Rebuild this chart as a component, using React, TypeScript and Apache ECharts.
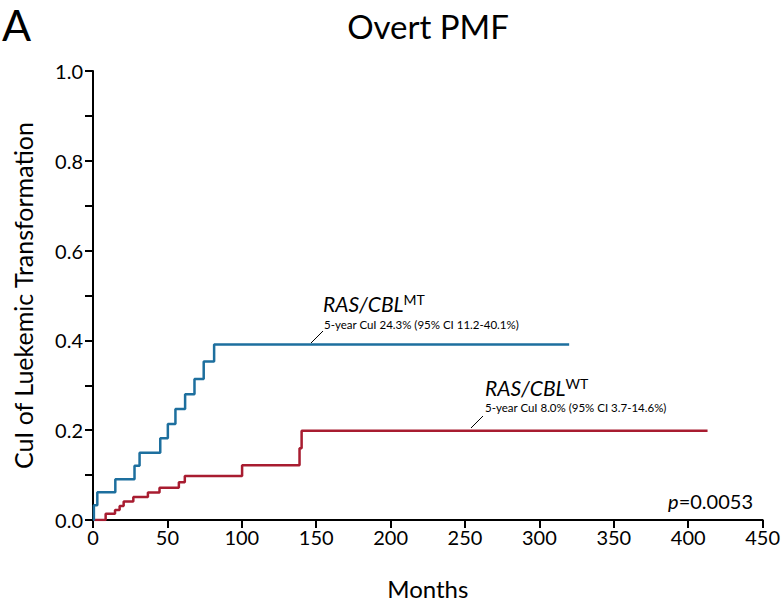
import React, { useEffect, useRef } from "react";
import * as echarts from "echarts";

const xTicks = [0, 50, 100, 150, 200, 250, 300, 350, 400, 450];
const yTicks = [0, 0.2, 0.4, 0.6, 0.8, 1.0];

const mtMonths = [0, 0.6, 2.9, 15, 27.9, 31.3, 45.2, 50.3, 55.4, 61.9, 68.2, 74.4, 81.4, 320];
const mtCui = [0, 0.033, 0.062, 0.091, 0.121, 0.15, 0.182, 0.214, 0.247, 0.28, 0.314, 0.353, 0.391, 0.391];

const wtMonths = [0, 8.5, 14.8, 17.9, 20.6, 27.1, 36.9, 44.7, 57.7, 61.7, 100.2, 138.8, 140.2, 413];
const wtCui = [0, 0.014, 0.022, 0.031, 0.041, 0.051, 0.061, 0.072, 0.084, 0.098, 0.122, 0.16, 0.199, 0.199];

const BLUE = "#1d6f9e";
const RED = "#a81c30";
const FONT = "Lato";

export default function App() {
  const ref = useRef<HTMLDivElement>(null);
  useEffect(() => {
    if (!ref.current) return;
    const chart = echarts.init(ref.current, null, { renderer: "svg" });
    const axisCommon = {
      axisLine: { show: true, lineStyle: { color: "#000", width: 2 } },
      axisTick: { show: true, length: 8, lineStyle: { color: "#000", width: 2 } },
      splitLine: { show: false },
    };
    chart.setOption({
      animation: false,
      textStyle: { fontFamily: FONT },
      grid: { left: 93, right: 19, top: 71, bottom: 80 },
      xAxis: {
        type: "value",
        min: 0,
        max: 450,
        interval: 50,
        ...axisCommon,
        axisLabel: { color: "#000", fontSize: 20, fontFamily: FONT, margin: 7, formatter: (v: number) => (xTicks.includes(v) ? String(v) : "") },
        name: "Months",
        nameLocation: "middle",
        nameGap: 56,
        nameTextStyle: { color: "#000", fontSize: 24, fontFamily: FONT },
      },
      yAxis: {
        type: "value",
        min: 0,
        max: 1,
        interval: 0.2,
        ...axisCommon,
        minorTick: { show: true, splitNumber: 2, length: 8, lineStyle: { color: "#000", width: 2 } },
        axisLabel: { color: "#000", fontSize: 20, fontFamily: FONT, margin: 10, formatter: (v: number) => (yTicks.some((t) => Math.abs(t - v) < 1e-9) ? v.toFixed(1) : "") },
        name: "CuI of Luekemic Transformation",
        nameLocation: "middle",
        nameGap: 58,
        nameTextStyle: { color: "#000", fontSize: 25, fontFamily: FONT },
      },
      series: [
        {
          type: "line",
          step: "end",
          symbol: "none",
          lineStyle: { color: BLUE, width: 2.5 },
          data: mtMonths.map((m, i) => [m, mtCui[i]]),
          z: 3,
        },
        {
          type: "line",
          step: "end",
          symbol: "none",
          lineStyle: { color: RED, width: 2.5 },
          data: wtMonths.map((m, i) => [m, wtCui[i]]),
          z: 2,
        },
      ],
      graphic: [
        { type: "text", left: 2, top: 3, style: { text: "A", fontSize: 43, fontFamily: FONT, fill: "#000" } },
        { type: "text", x: 428, y: 26, style: { text: "Overt PMF", fontSize: 33, fontFamily: FONT, fill: "#000", align: "center", verticalAlign: "middle" } },
        {
          type: "text",
          x: 323,
          y: 303,
          style: {
            text: "{i|RAS/CBL}{s|MT}",
            verticalAlign: "middle",
            rich: {
              i: { fontSize: 21, fontStyle: "italic", fontFamily: FONT, fill: "#000" },
              s: { fontSize: 14, fontFamily: FONT, fill: "#000", verticalAlign: "top", padding: [0, 0, 8, 0] },
            },
          },
        },
        { type: "text", x: 324, y: 324, style: { text: "5-year CuI 24.3% (95% CI 11.2-40.1%)", fontSize: 11.5, fontFamily: FONT, fill: "#000", verticalAlign: "middle" } },
        { type: "line", shape: { x1: 311, y1: 343, x2: 323, y2: 331 }, style: { stroke: "#000", lineWidth: 1 } },
        {
          type: "text",
          x: 485,
          y: 387,
          style: {
            text: "{i|RAS/CBL}{s|WT}",
            verticalAlign: "middle",
            rich: {
              i: { fontSize: 21, fontStyle: "italic", fontFamily: FONT, fill: "#000" },
              s: { fontSize: 14, fontFamily: FONT, fill: "#000", verticalAlign: "top", padding: [0, 0, 8, 0] },
            },
          },
        },
        { type: "text", x: 485, y: 407, style: { text: "5-year CuI 8.0% (95% CI 3.7-14.6%)", fontSize: 11.5, fontFamily: FONT, fill: "#000", verticalAlign: "middle" } },
        { type: "line", shape: { x1: 471, y1: 428, x2: 483, y2: 416 }, style: { stroke: "#000", lineWidth: 1 } },
        {
          type: "text",
          x: 753,
          y: 501,
          style: {
            text: "{i|p}{n|=0.0053}",
            align: "right",
            verticalAlign: "middle",
            rich: {
              i: { fontSize: 20, fontStyle: "italic", fontFamily: FONT, fill: "#000" },
              n: { fontSize: 20, fontFamily: FONT, fill: "#000" },
            },
          },
        },
      ],
    });
    return () => chart.dispose();
  }, []);
  return <div ref={ref} style={{ width: 783, height: 605, position: "absolute", left: 0, top: 0 }} />;
}
